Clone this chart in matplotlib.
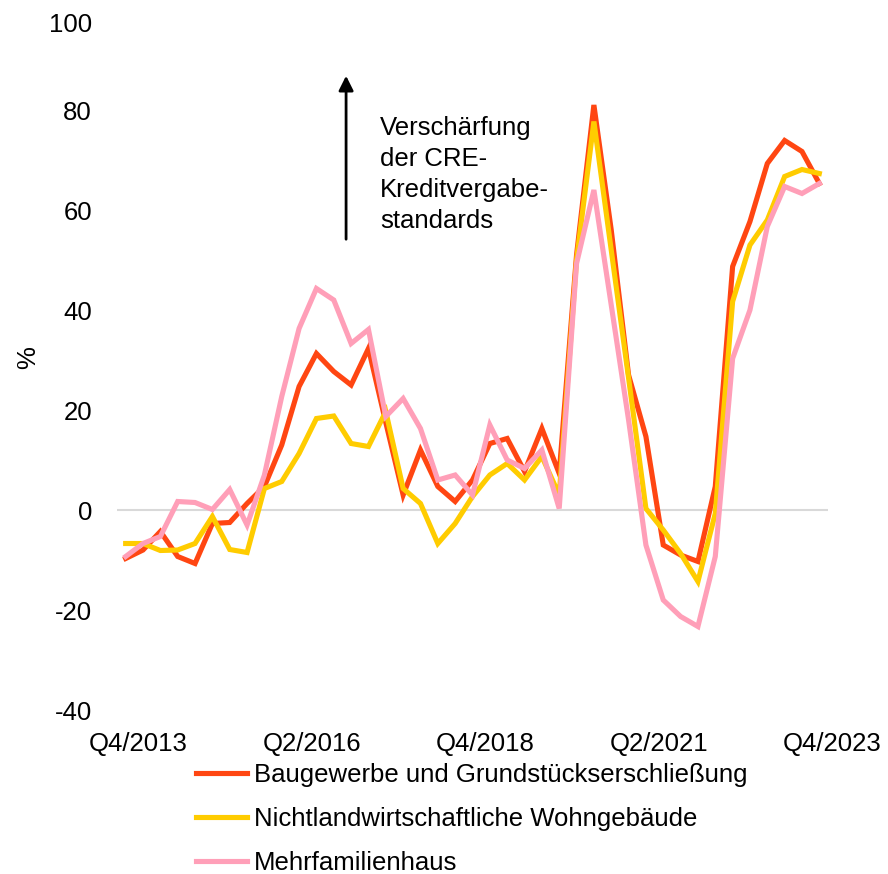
import matplotlib
matplotlib.use("Agg")
import matplotlib.pyplot as plt
import matplotlib.transforms as mtransforms

plt.rcParams["font.family"] = ["Liberation Sans", "DejaVu Sans"]
plt.rcParams["axes.unicode_minus"] = False

# Quarterly values Q4/2013 .. Q4/2023 (41 quarters)
baugewerbe = [-9.7, -8, -4.3, -9.3, -10.7, -2.7, -2.5, 1.3, 4.7, 13,
              24.7, 31.3, 27.7, 25, 32.3, 17.5, 3, 12, 4.7, 1.7,
              6, 13.3, 14.3, 7.7, 16.3, 7.3, 51, 81, 56, 27,
              14.7, -7, -9, -10.3, 4.7, 48.7, 57.7, 69.3, 73.9, 71.7,
              65.3]
wohngebaeude = [-6.7, -6.7, -8.1, -8, -6.7, -1.3, -7.9, -8.5, 4.3, 5.7,
                11.3, 18.3, 18.8, 13.3, 12.7, 19.7, 4.3, 1.3, -6.7, -2.7,
                2.7, 7, 9.3, 6, 10.7, 3, 50, 77.7, 52, 26.4,
                0.3, -4, -8.7, -14.3, -0.7, 41.7, 53, 58, 66.7, 68.1,
                67.3]
mehrfamilien = [-9.3, -6.7, -5.3, 1.7, 1.5, 0.1, 4.1, -3, 7, 22.7,
                36.3, 44.3, 42, 33.3, 36.1, 18.7, 22.3, 16.3, 6, 7,
                3, 17, 10, 8.3, 12, 0.3, 49.3, 64, 41, 18,
                -7, -18, -21.3, -23.3, -9.3, 30.3, 40, 56.7, 64.7, 63.3,
                65.3]

tick_pos = [0, 10, 20, 30, 40]
tick_labels = ["Q4/2013", "Q2/2016", "Q4/2018", "Q2/2021", "Q4/2023"]
labels = ["Baugewerbe und Grundstückserschließung",
          "Nichtlandwirtschaftliche Wohngebäude",
          "Mehrfamilienhaus"]
colors = ["#ff4612", "#ffcc00", "#ff9fb8"]

fs = 18.5
fig = plt.figure(figsize=(8.88, 8.74), dpi=100)
ax = fig.add_axes([117 / 888, 1 - 710 / 874, (828 - 117) / 888, 700 / 874])

x = list(range(len(baugewerbe)))
ax.axhline(0, color="#d9d9d9", lw=1.5, zorder=1)
for y, c, lab in zip([baugewerbe, wohngebaeude, mehrfamilien], colors, labels):
    ax.plot(x, y, color=c, lw=3.7, label=lab, solid_joinstyle="miter", zorder=2)

ax.set_xlim(-0.5, 40.5)
ax.set_ylim(-40, 100)
ax.set_yticks(range(-40, 101, 20))
ax.set_xticks(tick_pos)
ax.set_xticklabels(tick_labels)
ax.tick_params(length=0, labelsize=fs)
ax.tick_params(axis="x", pad=16)
ax.tick_params(axis="y", pad=18)
for s in ax.spines.values():
    s.set_visible(False)

# label offsets as in the original layout
for t in ax.get_xticklabels():
    t.set_transform(t.get_transform() + mtransforms.ScaledTranslation(0.13, 0, fig.dpi_scale_trans))
top = ax.get_yticklabels()[-1]
top.set_transform(top.get_transform() + mtransforms.ScaledTranslation(0, -0.13, fig.dpi_scale_trans))

fig.text(28 / 888, 1 - 358 / 874, "%", rotation=90, ha="center", va="center", fontsize=fs)

# arrow + annotation
ax.annotate("", xy=(12.71, 87.4), xytext=(12.71, 53.6),
            arrowprops=dict(arrowstyle="-|>", color="black", lw=2, mutation_scale=22))
ax.text(14.67, 78.8, "Verschärfung\nder CRE-\nKreditvergabe-\nstandards",
        fontsize=fs, va="top", ha="left", linespacing=1.36)

fig.legend(loc="upper left", bbox_to_anchor=(195.7 / 888, 1 - 763 / 874),
           frameon=False, fontsize=fs, handlelength=2.0, handletextpad=0.26,
           labelspacing=0.78, borderpad=0, borderaxespad=0)

fig.savefig("out.png", dpi=100)
